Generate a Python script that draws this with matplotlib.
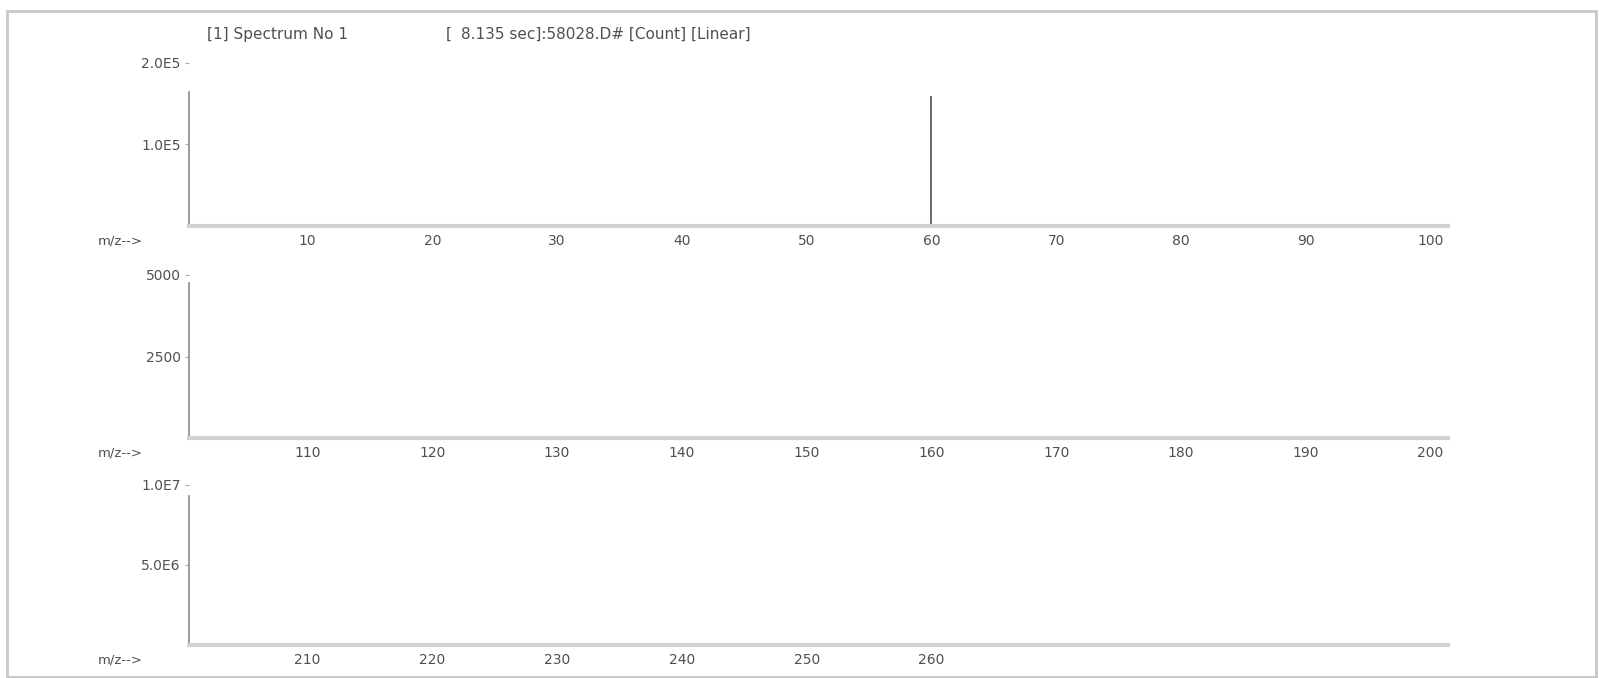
import matplotlib
matplotlib.use("Agg")
import matplotlib.pyplot as plt
from matplotlib.patches import Rectangle

# ---- data ----
title_parts = ["[1] Spectrum No 1", "[", "8.135 sec]:58028.D# [Count] [Linear]"]
mz_peaks = [60]
intensity_peaks = [160000]

panel_xranges = [(0.5, 101.4), (100.5, 201.4), (200.5, 301.4)]
panel_xticks = [
    [10, 20, 30, 40, 50, 60, 70, 80, 90, 100],
    [110, 120, 130, 140, 150, 160, 170, 180, 190, 200],
    [210, 220, 230, 240, 250, 260],
]
panel_ylims = [2.0e5, 5000, 1.0e7]
panel_yticks = [[1.0e5, 2.0e5], [2500, 5000], [5.0e6, 1.0e7]]
panel_yticklabels = [["1.0E5", "2.0E5"], ["2500", "5000"], ["5.0E6", "1.0E7"]]
xlabel_text = "m/z-->"

W, H = 1599, 678
fig = plt.figure(figsize=(W / 100, H / 100), dpi=100)
fig.patch.set_facecolor("white")

# frame
fig.patches.append(Rectangle((7 / W, 1 / H), 1589 / W, 1 - 12 / H, transform=fig.transFigure,
                             fill=False, edgecolor="#c8c8c8", linewidth=2.0))

# pixel layout (from top): baseline y, top y
layout = [(226, 63), (438, 275), (645, 485)]
spine_tops = [1.64e5, 4755, 9.3e6]
left_px, right_px = 189, 1448
text_color = "#505050"
fs = 10

for i, ((y0, y1), (xa, xb)) in enumerate(zip(layout, panel_xranges)):
    ax = fig.add_axes([left_px / W, 1 - y0 / H, (right_px - left_px) / W, (y0 - y1) / H])
    ax.set_xlim(xa, xb)
    ax.set_ylim(0, panel_ylims[i])
    ax.patch.set_alpha(0)
    for s in ["top", "right"]:
        ax.spines[s].set_visible(False)
    ax.spines["left"].set_color("#8a8a8a")
    ax.spines["left"].set_linewidth(1.2)
    ax.spines["left"].set_bounds(0, spine_tops[i])
    ax.spines["bottom"].set_color("#d2d2d2")
    ax.spines["bottom"].set_linewidth(3.0)
    ax.set_xticks(panel_xticks[i])
    ax.set_xticklabels([str(t) for t in panel_xticks[i]])
    ax.tick_params(axis="x", length=0, pad=6, labelsize=fs, labelcolor=text_color)
    ax.set_yticks(panel_yticks[i])
    ax.set_yticklabels(panel_yticklabels[i])
    ax.tick_params(axis="y", length=3, width=0.8, color="#aaaaaa", pad=3,
                   labelsize=fs, labelcolor=text_color)
    for m, v in zip(mz_peaks, intensity_peaks):
        if xa <= m <= xb:
            ax.vlines(m, 0, v, color="#6a6a6a", linewidth=1.4)
    fig.text(120 / W, 1 - (y0 + 15) / H, xlabel_text, ha="center", va="center",
             fontsize=fs - 0.5, color=text_color)

title_x = [207, 446, 461]
for tx, part in zip(title_x, title_parts):
    fig.text(tx / W, 1 - 34 / H, part, ha="left", va="center", fontsize=11, color=text_color)

fig.savefig("out.png", dpi=100, facecolor="white")
